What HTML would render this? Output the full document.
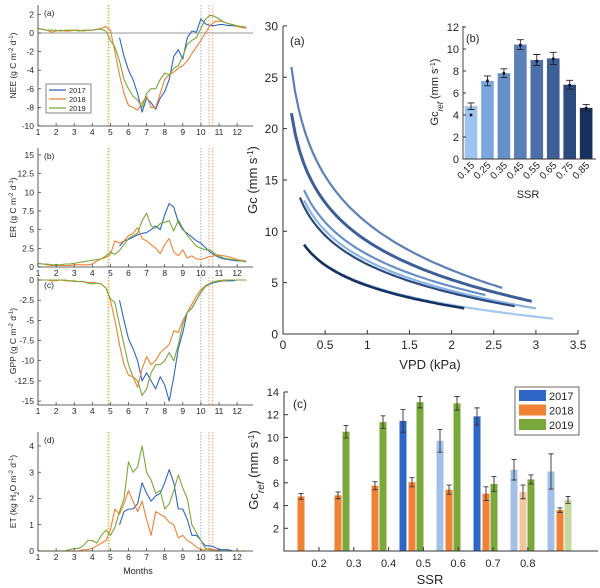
<!DOCTYPE html>
<html><head><meta charset="utf-8"><style>
body{margin:0;background:#fff;}
svg{font-family:"Liberation Sans","DejaVu Sans",sans-serif;display:block}
</style></head><body>
<svg id="fig" width="600" height="588" viewBox="0 0 600 588"></svg>
<script>
// ---------- DATA ----------
const months = []; for (let i = 0; i < 47; i++) months.push(1 + 0.25 * i);
const N = null;
const nul18 = [N,N,N,N,N,N,N,N,N,N,N,N,N,N,N,N,N,N];
const nee2017 = nul18.concat([-0.5,-2.5,-4,-5,-6.5,-8.5,-7,-7.5,-8.2,-7,-6.3,-5,-2.5,-1.8,-2.8,-0.5,0.2,0.1,1.5,1.0,0.8,0.8,0.9,0.9,0.8,0.8,0.7,0.7,0.6]);
const nee2018 = [0.5,0.4,0.3,0.1,0.2,0.3,0.2,0.2,0.3,0.3,0.2,0.3,0.3,0.4,0.5,0.7,0.3,-2,-4.5,-6.5,-7.8,-8,-8.3,-7.5,-6.8,-8,-8,-6.5,-5,-4.5,-4.2,-3.8,-3.5,-3,-2.2,-1.5,-0.8,0,0.8,1.2,1.3,1.2,1.0,0.9,0.7,0.6,0.5];
const nee2019 = [0.5,0.4,0.3,0.3,0.3,0.2,0.3,0.3,0.3,0.2,0.3,0.3,0.3,0.4,0.4,0.2,-0.8,-1.5,-3,-5,-6,-6.8,-7.2,-8,-6.5,-6,-6,-5,-4.3,-4.5,-3.8,-3.5,-2.5,-1.2,-0.8,-0.5,0.5,1.5,1.9,1.8,1.5,1.2,1.0,0.9,0.8,0.7,0.6];
const er2017 = nul18.concat([2.8,3.5,3.7,4,4.3,4.5,4.6,5,5.5,5,7,8.5,8,6,5,4.5,4,3.5,3.2,2.6,2,1.6,1.3,1.1,1.0,0.9,0.8,0.8,0.7]);
const er2018 = [0.5,0.4,0.3,0.2,0.2,0.2,0.2,0.2,0.3,0.3,0.3,0.3,0.4,0.8,1.1,1.3,1.7,3.5,3.2,3.5,4.2,4.5,5.3,3.8,3.5,3.0,2.5,1.8,3,3.8,2,1.5,2.3,1.2,1.5,1.1,1.0,1.2,1.4,1.5,1.6,1.5,1.4,1.2,1.0,0.9,0.8];
const er2019 = [0.5,0.4,0.4,0.3,0.3,0.3,0.4,0.4,0.5,0.6,0.7,0.8,0.9,1.0,1.1,1.5,2.0,1.7,2.2,3.0,3.8,4.2,4.5,6.2,7.2,5.5,5.2,5.8,6.0,6.2,4.8,6.3,5.2,4.2,3.5,2.8,2.5,2.3,2.3,1.8,1.5,1.2,1.1,1.0,0.9,0.8,0.7];
const gpp2017 = nul18.concat([-2.5,-5,-7.3,-8.5,-10,-12.5,-11.5,-12.5,-13.5,-12,-13,-15,-12,-8.5,-6.5,-4,-3.5,-2.5,-1.5,-0.8,-0.5,-0.3,-0.2,-0.1,-0.1,-0.1,0,0,0]);
const gpp2018 = [0,0,0,-0.1,-0.1,0,-0.1,-0.1,-0.2,-0.2,-0.2,-0.3,-0.3,-0.4,-0.5,-1.0,-2.5,-5,-8,-10.5,-11.8,-12,-13.3,-11,-9.5,-10.5,-10,-9,-8.5,-8,-6.3,-6.5,-5,-4,-3,-2,-1.2,-0.7,-0.4,-0.2,-0.1,-0.1,0,0,0,0,0];
const gpp2019 = [0,0,0,0,0,0,0,-0.1,-0.1,-0.2,-0.2,-0.4,-0.5,-0.4,-0.5,-1.0,-2.3,-2.8,-5.5,-8,-10.5,-12,-12.5,-14.3,-13.5,-11.5,-10.5,-10.5,-10,-9,-10,-8,-5.5,-4,-3.5,-2.5,-1.5,-0.8,-0.4,-0.2,-0.1,0,0,0,0,0,0];
const et2017 = nul18.concat([1.0,1.5,1.6,1.6,1.8,2.6,2.2,1.9,2.1,2.2,2.6,3.1,2.6,1.6,1.6,1.2,0.6,0.6,0.4,0.2,0.2,0.15,0.05,0.05,0.05,0,0,0,0]);
const et2018 = [0,0,0,0,0,0,0,0,0,0,0.05,0.05,0.1,0.2,0.3,0.4,0.8,1.6,1.4,1.8,2.3,1.9,1.5,1.9,1.2,0.6,1.5,1.4,1.3,1.1,1.0,0.5,0.6,0.4,0.3,0.15,0.05,0.05,0.1,0.05,0,0,0,0,0,0,0];
const et2019 = [0,0,0,0,0,0,0,0.05,0.1,0.1,0.2,0.4,0.4,0.3,0.6,0.8,0.6,0.9,1.5,2.0,3.4,3.0,3.2,4.0,3.0,2.7,2.2,2.3,1.6,1.8,2.3,2.9,2.4,2.0,1.0,0.7,0.4,0.1,0.05,0,0,0,0,0,0,0,0];
const monthTicks = [1,2,3,4,5,6,7,8,9,10,11,12];
const seasonLines = [4.87, 4.92, 10.0, 10.45, 10.65];
const seasonColors = ["#e8b35a","#c9c45a","#8fb0e0","#f0a070","#f0a070"];

// Gc curves: Gc = a - b*ln(VPD)
const curveA = [10.8, 9.04, 7.75, 7.14, 6.79, 4.80, 4.71];
const curveB = [6.6, 5.41, 4.51, 4.23, 4.04, 2.84, 2.88];
const curveV0 = [0.1, 0.1, 0.25, 0.25, 0.2, 0.55, 0.25];
const curveV1 = [2.6, 2.95, 2.4, 3.0, 2.75, 3.2, 2.15];
const curveColor = ["#5a80b8","#3d5e96","#6890c8","#8ab2e4","#2a4a80","#a3c8f0","#16305f"];
const curveWidth = [2.2, 3, 2.2, 2.2, 2.2, 2.2, 2.6];
const gcTicks = [0,5,10,15,20,25,30];
const vpdTicks = [0,0.5,1,1.5,2,2.5,3,3.5];

// inset b
const ssrCats = ["0.15","0.25","0.35","0.45","0.55","0.65","0.75","0.85"];
const grefVals = [4.8,7.1,7.8,10.4,9.0,9.15,6.75,4.65];
const grefErr = [0.3,0.45,0.4,0.45,0.5,0.55,0.4,0.3];
const grefDots = [4.0,7.1,7.8,10.35,8.9,9.1,6.7,4.6];
const grefColors = ["#9dc3ef","#7aa6dc","#6890c8","#5a80b8","#4b6fa6","#3d5e96","#2a4a80","#16305f"];
const insetTicks = [0,2,4,6,8,10,12];

// panel c
const years = ["2017","2018","2019"];
const c2017 = [N,N,N,11.45,9.7,11.85,7.15,7.0];
const c2018 = [4.8,4.9,5.75,6.05,5.4,5.05,5.2,3.6];
const c2019 = [N,10.5,11.35,13.1,13.0,5.9,6.3,4.5];
const e2017 = [0,0,0,1.0,1.0,0.75,0.9,1.55];
const e2018 = [0.25,0.3,0.35,0.4,0.4,0.6,0.6,0.2];
const e2019 = [0,0.55,0.55,0.5,0.6,0.65,0.4,0.3];
const l2017 = [0,0,0,0,1,0,1,1];
const l2018 = [0,0,0,0,0,0,1,0];
const l2019 = [0,0,0,0,0,0,0,1];
const cTicksY = [2,4,6,8,10,12,14];
const cTicksX = [0.2,0.3,0.4,0.5,0.6,0.7,0.8];

// ---------- helpers ----------
const svg = document.getElementById('fig');
const NS = "http://www.w3.org/2000/svg";
function mk(tag, at, parent){const e=document.createElementNS(NS,tag);for(const k in at)e.setAttribute(k,at[k]);(parent||svg).appendChild(e);return e;}
function txt(x,y,s,size,anchor,parent,extra){const e=mk('text',Object.assign({x:x,y:y,'font-size':size,'text-anchor':anchor||'middle',fill:'#262626'},extra||{}),parent);e.textContent=s;return e;}
const yearColors = ["#2d66c4","#ef8234","#7aa83a"];

// ---------- left panels ----------
const mx = m => 38 + (m - 1) * 18.1;
const panels = [
 {name:'nee',lab:'(a)',zero:33,k:9.3,top:5,bot:126,ticks:[-10,-8,-6,-4,-2,0,2],data:[nee2017,nee2018,nee2019],ylab:'NEE (g C m<tspan baseline-shift="super" font-size="6">-2</tspan> d<tspan baseline-shift="super" font-size="6">-1</tspan>)',zl:true},
 {name:'er',lab:'(b)',zero:267,k:7.47,top:148,bot:267,ticks:[0,2.5,5,7.5,10,12.5,15],data:[er2017,er2018,er2019],ylab:'ER (g C m<tspan baseline-shift="super" font-size="6">-2</tspan> d<tspan baseline-shift="super" font-size="6">-1</tspan>)'},
 {name:'gpp',lab:'(c)',zero:280,k:8.07,top:277,bot:405,ticks:[-15,-12.5,-10,-7.5,-5,-2.5,0],data:[gpp2017,gpp2018,gpp2019],ylab:'GPP (g C m<tspan baseline-shift="super" font-size="6">-2</tspan> d<tspan baseline-shift="super" font-size="6">-1</tspan>)'},
 {name:'et',lab:'(d)',zero:551,k:26.25,top:432,bot:551,ticks:[0,1,2,3,4],data:[et2017,et2018,et2019],ylab:'ET (kg H<tspan baseline-shift="sub" font-size="6">2</tspan>O m<tspan baseline-shift="super" font-size="6">-2</tspan> d<tspan baseline-shift="super" font-size="6">-1</tspan>)'}
];
panels.forEach(p=>{
  const g = mk('g',{});
  
  
  const vy = v => p.zero - v * p.k;
  seasonLines.forEach((s,i)=>{
    const l = mk('line',{x1:mx(s),x2:mx(s),y1:p.top,y2:p.bot,stroke:seasonColors[i],'stroke-width':1,'stroke-dasharray':'1.5,1.5'},g);
    
    
  });
  if(p.zl){const z=mk('line',{x1:mx(1),x2:253,y1:vy(0),y2:vy(0),stroke:'#999','stroke-width':1},g);
    
    }
  p.data.forEach((arr,si)=>{
    let d=''; let pen=false;
    arr.forEach((v,i)=>{ if(v===null){pen=false;return;} d+=(pen?'L':'M')+mx(months[i]).toFixed(1)+','+vy(v).toFixed(1); pen=true; });
    const pa = mk('path',{d:d,fill:'none',stroke:yearColors[si],'stroke-width':1.1,'stroke-linejoin':'round'},g);
    
    
  });
  const ax = mk('path',{d:`M38,${p.top}V${p.bot}H253`,fill:'none',stroke:'#333','stroke-width':0.8},g);
  
  
  p.ticks.forEach(t=>{
    mk('line',{x1:38,x2:41,y1:vy(t),y2:vy(t),stroke:'#333','stroke-width':0.7},g);
    const tl = txt(34,vy(t)+3,String(t),8.5,'end',g);
    
    
  });
  monthTicks.forEach(m=>{
    mk('line',{x1:mx(m),x2:mx(m),y1:p.bot,y2:p.bot-3,stroke:'#333','stroke-width':0.7},g);
    const tl = txt(mx(m),p.bot+9,String(m),8.5,'middle',g);
    
    
  });
  const pl = txt(44,p.top+11,p.lab,8.5,'start',g);
  
  
  const yc=(p.top+p.bot)/2;
  const yl = mk('text',{x:0,y:0,'font-size':8.5,'text-anchor':'middle',fill:'#262626',transform:`translate(16,${yc}) rotate(-90)`},g);
  yl.innerHTML = p.ylab;
  
  
});
const mt = txt(138,574,'Months',9,'middle');


// legend panel a
const lg = mk('g',{});


mk('rect',{x:46,y:84,width:45,height:29,fill:'#fff',stroke:'#555','stroke-width':0.7},lg);
years.forEach((y,i)=>{
  const e = mk('g',{},lg);
  
  
  mk('line',{x1:49,x2:66,y1:90+i*9,y2:90+i*9,stroke:yearColors[i],'stroke-width':1.2},e);
  txt(69,93+i*9,y,7.5,'start',e);
});

// ---------- main Gc chart ----------
const gx = v => 283 + v * 84.3;
const gy = v => 334 - v * 10.27;
const mg = mk('g',{});


curveA.forEach((a,i)=>{
  let d='';
  for(let s=0;s<=60;s++){const v=curveV0[i]+(curveV1[i]-curveV0[i])*s/60; const g=a-curveB[i]*Math.log(v); d+=(s?'L':'M')+gx(v).toFixed(1)+','+gy(g).toFixed(1);}
  const c = mk('path',{d:d,fill:'none',stroke:curveColor[i],'stroke-width':curveWidth[i]},mg);
  
  
});
const ma = mk('path',{d:`M283,26V334H578`,fill:'none',stroke:'#333','stroke-width':1},mg);


gcTicks.forEach(t=>{
  mk('line',{x1:283,x2:287,y1:gy(t),y2:gy(t),stroke:'#333'},mg);
  const l=txt(278,gy(t)+4.5,String(t),12,'end',mg);
  
  
});
vpdTicks.forEach(t=>{
  mk('line',{x1:gx(t),x2:gx(t),y1:334,y2:330,stroke:'#333'},mg);
  const l=txt(gx(t),349,String(t),12,'middle',mg);
  
  
});
const mxl = txt(430,369,'VPD (kPa)',13,'middle',mg);


const myl = mk('text',{x:0,y:0,'font-size':13,'text-anchor':'middle',fill:'#262626',transform:'translate(257,180) rotate(-90)'},mg);
myl.innerHTML='Gc (mm s<tspan baseline-shift="super" font-size="8">-1</tspan>)';


const mal = txt(290,45,'(a)',12,'start',mg);



// ---------- inset b ----------
const bg = mk('g',{});


const bx = i => 471 + i * 16.45;
const by = v => 159 - v * 11;
grefVals.forEach((v,i)=>{
  const r = mk('rect',{x:bx(i)-6.3,y:by(v),width:12.6,height:159-by(v),fill:grefColors[i]},bg);
  
  
  const eb = mk('path',{d:`M${bx(i)},${by(v+grefErr[i])}V${by(v-grefErr[i])}M${bx(i)-3.5},${by(v+grefErr[i])}h7M${bx(i)-3.5},${by(v-grefErr[i])}h7`,stroke:'#222','stroke-width':0.9,fill:'none'},bg);
  
  
  const dt = mk('rect',{x:bx(i)-1.3,y:by(grefDots[i])-1.3,width:2.6,height:2.6,fill:'#111'},bg);
  
  
  const tl = txt(0,0,ssrCats[i],10,'end',bg,{transform:`translate(${bx(i)+4},${166}) rotate(-45)`});
  
  
});
const ba = mk('path',{d:'M463,26V159H596',fill:'none',stroke:'#333','stroke-width':0.9},bg);


insetTicks.forEach(t=>{
  mk('line',{x1:463,x2:466,y1:by(t),y2:by(t),stroke:'#333'},bg);
  const l=txt(459,by(t)+4,String(t),11,'end',bg);
  
  
});
const bxl = txt(528,198,'SSR',11,'middle',bg);


const byl = mk('text',{x:0,y:0,'font-size':11,'text-anchor':'middle',fill:'#262626',transform:'translate(438,92) rotate(-90)'},bg);
byl.innerHTML='Gc<tspan baseline-shift="sub" font-size="8" font-style="italic">ref</tspan> (mm s<tspan baseline-shift="super" font-size="7">-1</tspan>)';


const bl = txt(466,42,'(b)',11,'start',bg);



// ---------- panel c ----------
const cg = mk('g',{});


const cy = v => 551 - v * 11.36;
const tx = v => 319 + (v - 0.2) * 348;
const catX = i => 403 + (i - 3) * 37;
const yearOff = [0, 9, 17];
const lightColors = ["#a3c0e6","#f5c4a0","#c5d9a0"];
const series = [[c2017,e2017,l2017],[c2018,e2018,l2018],[c2019,e2019,l2019]];
series.forEach((s,yi)=>{
  s[0].forEach((v,i)=>{
    if(v===null) return;
    const x = catX(i)+yearOff[yi];
    const r = mk('rect',{x:x-3.5,y:cy(v),width:7,height:551-cy(v),fill:s[2][i]?lightColors[yi]:yearColors[yi]},cg);
    
    
    const e=s[1][i];
    const eb = mk('path',{d:`M${x},${cy(v+e)}V${cy(v-e)}M${x-2.5},${cy(v+e)}h5M${x-2.5},${cy(v-e)}h5`,stroke:'#333','stroke-width':0.9,fill:'none'},cg);
    
    
  });
});
const ca = mk('path',{d:'M284,392V551H598',fill:'none',stroke:'#333','stroke-width':1},cg);


cTicksY.forEach(t=>{
  mk('line',{x1:284,x2:288,y1:cy(t),y2:cy(t),stroke:'#333'},cg);
  const l=txt(279,cy(t)+4,String(t),11,'end',cg);
  
  
});
cTicksX.forEach(t=>{
  mk('line',{x1:tx(t),x2:tx(t),y1:551,y2:547,stroke:'#333'},cg);
  const l=txt(tx(t),567,String(t),11,'middle',cg);
  
  
});
const cxl = txt(430,584,'SSR',13,'middle',cg);


const cyl = mk('text',{x:0,y:0,'font-size':13,'text-anchor':'middle',fill:'#262626',transform:'translate(258,470) rotate(-90)'},cg);
cyl.innerHTML='Gc<tspan baseline-shift="sub" font-size="10" font-style="italic">ref</tspan> (mm s<tspan baseline-shift="super" font-size="8">-1</tspan>)';


const cl = txt(293,408,'(c)',12,'start',cg);


const clg = mk('g',{},cg);


mk('rect',{x:515,y:387,width:64,height:48,fill:'#fff',stroke:'#444','stroke-width':0.8},clg);
years.forEach((y,i)=>{
  const e=mk('g',{},clg);
  
  
  mk('rect',{x:519,y:390+i*14.5,width:27,height:11,fill:yearColors[i]},e);
  txt(549,400+i*14.5,y,11,'start',e);
});
</script>
</body></html>
